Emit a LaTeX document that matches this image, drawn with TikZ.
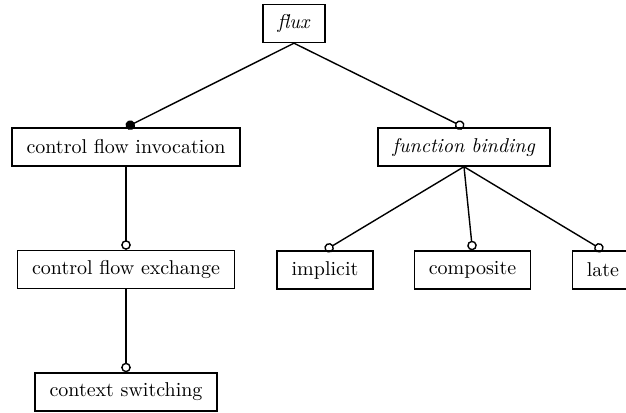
\documentclass[tikz,border=0pt]{standalone}
\usetikzlibrary{arrows.meta}
\begin{document}
\begin{tikzpicture}[x=0.5pt,y=-0.5pt,
  feature/.style={draw, line width=0.7pt, rectangle, minimum height=19pt, inner xsep=7.3pt, inner ysep=0pt},
  mandatory/.style={line width=0.7pt, -{Circle[length=4.8pt]}},
  optional/.style={line width=0.7pt, -{Circle[length=4.8pt, open]}}]
  \useasboundingbox (0,0) rectangle (626,412);
  % feature nodes
  \node[feature] (flux) at (294,23.5) {\textit{flux}};
  \node[feature] (inv) at (126,147) {control flow invocation};
  \node[feature] (bind) at (464,147) {\textit{function binding}};
  \node[feature] (exch) at (126,269.5) {control flow exchange};
  \node[feature] (impl) at (325,270) {implicit};
  \node[feature] (comp) at (472.5,270) {composite};
  \node[feature] (late) at (603,270) {late};
  \node[feature] (ctx) at (126,392) {context switching};
  % relations
  \draw[mandatory] (flux.south) -- (inv.north);
  \draw[optional] (flux.south) -- (bind.north);
  \draw[optional] (inv.south) -- (exch.north);
  \draw[optional] (exch.south) -- (ctx.north);
  \draw[optional] (bind.south) -- (impl.north);
  \draw[optional] (bind.south) -- (comp.north);
  \draw[optional] (bind.south) -- (late.north);
\end{tikzpicture}
\end{document}
